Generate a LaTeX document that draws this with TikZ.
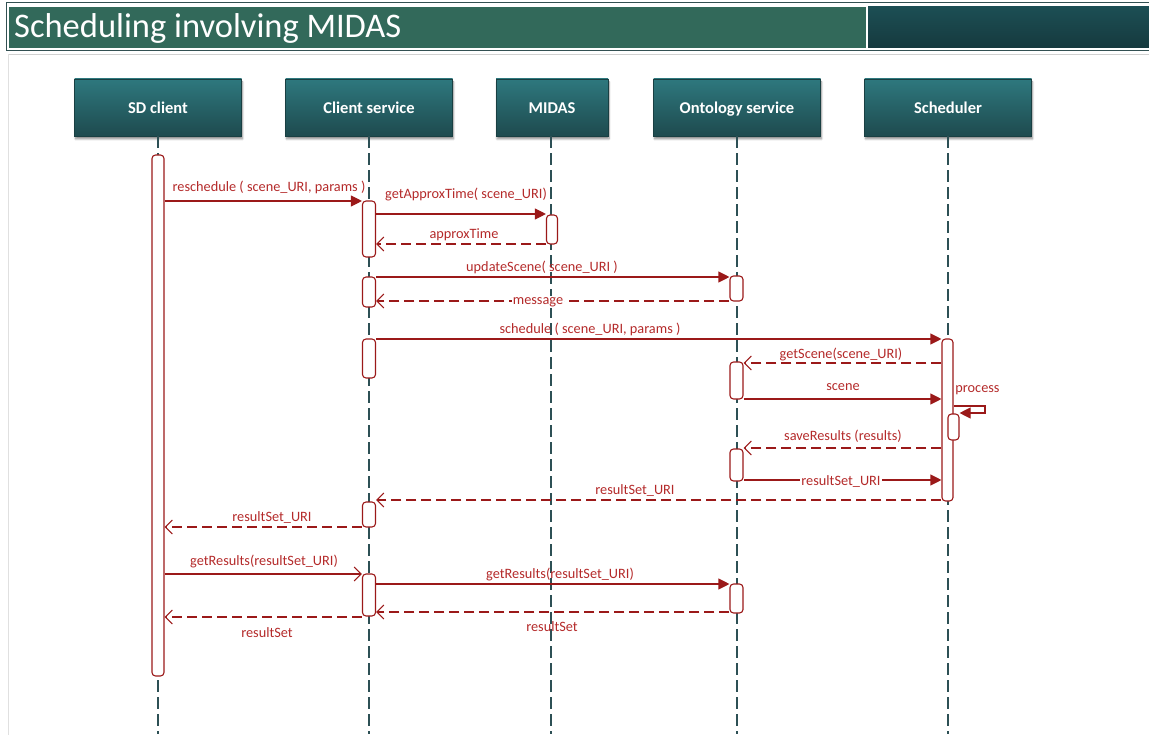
\documentclass[tikz,border=0pt]{standalone}
\usepackage{fontspec}
\setmainfont{Carlito}
\usetikzlibrary{arrows.meta,shadows.blur}

\definecolor{msgred}{RGB}{155,25,25}
\definecolor{lblred}{RGB}{180,42,42}
\definecolor{lifeline}{RGB}{45,80,85}
\definecolor{hdrtop}{RGB}{46,120,126}
\definecolor{hdrbot}{RGB}{30,74,78}
\definecolor{titlegreen}{RGB}{50,105,90}
\definecolor{titledarkA}{RGB}{28,78,84}
\definecolor{titledarkB}{RGB}{22,58,62}
\definecolor{frame}{RGB}{50,80,82}

\tikzset{
  hdr/.style={rectangle, inner sep=0pt, minimum height=57pt,
    text height=14pt, text depth=2pt,
    top color=hdrtop, bottom color=hdrbot, draw=hdrbot!85!black, line width=0.6pt,
    text=white, font=\bfseries\fontsize{16.5}{18}\selectfont,
    blur shadow={shadow xshift=1pt, shadow yshift=-3pt, shadow blur steps=6, shadow opacity=45}},
  life/.style={draw=lifeline, line width=1.6pt, dash pattern=on 12pt off 5pt},
  actbar/.style={rectangle, rounded corners=3.5pt, draw=msgred, fill=white,
    line width=1.1pt, inner sep=0pt},
  callmsg/.style={draw=msgred, line width=1.1pt, -{Triangle[length=11pt,width=11pt]}},
  opencall/.style={draw=msgred, line width=1.1pt, -{Straight Barb[length=7pt,width=14pt,line width=1.1pt]}},
  replymsg/.style={draw=msgred, line width=1.1pt, dash pattern=on 10pt off 5pt,
    -{Straight Barb[length=7pt,width=14pt,line width=1.1pt]}},
  lbl/.style={text=lblred, font=\fontsize{14.3}{16}\selectfont, inner sep=1pt},
  onlbl/.style={lbl, fill=white}
}

\begin{document}
\begin{tikzpicture}[x=1pt,y=-1pt]
\useasboundingbox (0,0) rectangle (1149,735);

% title banner
\draw[frame, line width=1pt] (6,3) rectangle (1152,51);
\fill[titlegreen] (9,7) rectangle (866,48);
\shade[top color=titledarkA, bottom color=titledarkB] (868,7) rectangle (1152,48);
\node[anchor=west, text=white, font=\fontsize{34.5}{38}\selectfont, inner sep=0pt] (title) at (14,28) {Scheduling involving MIDAS};
\draw[black!18, line width=0.8pt] (8,54) -- (1149,54);
\draw[black!12, line width=0.8pt] (8,54) -- (8,735);

% lifeline heads
\node[hdr, minimum width=167pt] (sd)  at (158,107.5) {SD client};
\node[hdr, minimum width=167pt] (cs)  at (369,107.5) {Client service};
\node[hdr, minimum width=112pt] (mid) at (552,107.5) {MIDAS};
\node[hdr, minimum width=167pt] (ont) at (737,107.5) {Ontology service};
\node[hdr, minimum width=167pt] (sch) at (948,107.5) {Scheduler};

% lifelines
\coordinate (sdend)  at (158,734);
\coordinate (csend)  at (369,734);
\coordinate (midend) at (551,734);
\coordinate (ontend) at (737,734);
\coordinate (schend) at (948,734);
\draw[life] (sd.south -| sdend) -- (sdend);
\draw[life] (cs.south -| csend) -- (csend);
\draw[life] (mid.south -| midend) -- (midend);
\draw[life] (ont.south -| ontend) -- (ontend);
\draw[life] (sch.south -| schend) -- (schend);

% activation bars
\node[actbar, minimum width=12pt, minimum height=521pt] (sdbar) at (158,415.5) {};
\node[actbar, minimum width=13pt, minimum height=56pt] (cs1) at (369,229) {};
\node[actbar, minimum width=13pt, minimum height=30pt] (cs2) at (369,292) {};
\node[actbar, minimum width=13pt, minimum height=39pt] (cs3) at (369,358.5) {};
\node[actbar, minimum width=13pt, minimum height=25pt] (cs4) at (369,514.5) {};
\node[actbar, minimum width=13pt, minimum height=42pt] (cs5) at (369,595) {};
\node[actbar, minimum width=11pt, minimum height=29pt] (mid1) at (552,229.5) {};
\node[actbar, minimum width=13pt, minimum height=25pt] (on1) at (736.5,288.5) {};
\node[actbar, minimum width=13pt, minimum height=37pt] (on2) at (736.5,380.5) {};
\node[actbar, minimum width=13pt, minimum height=32pt] (on3) at (736.5,465) {};
\node[actbar, minimum width=13pt, minimum height=29pt] (on4) at (736.5,598.5) {};
\node[actbar, minimum width=11pt, minimum height=162pt] (sbar) at (947.5,420) {};
\node[actbar, minimum width=11pt, minimum height=26pt] (nbar) at (953.5,427) {};

% messages
\draw[callmsg]  (sdbar.east |- 0,201) -- (cs1.west |- 0,201);
\draw[callmsg]  (cs1.east |- 0,214) -- (mid1.west |- 0,214);
\draw[replymsg] (mid1.west |- 0,244) -- (cs1.east |- 0,244);
\draw[callmsg]  (cs2.east |- 0,277) -- (on1.west |- 0,277);
\draw[replymsg] (on1.west |- 0,301) -- (cs2.east |- 0,301);
\draw[callmsg]  (cs3.east |- 0,339) -- (sbar.west |- 0,339);
\draw[replymsg] (sbar.west |- 0,363) -- (on2.east |- 0,363);
\draw[callmsg]  (on2.east |- 0,399) -- (sbar.west |- 0,399);
\coordinate (turnA) at (985,406);
\coordinate (turnB) at (985,413);
\draw[callmsg]  (sbar.east |- turnA) -- (turnA) -- (turnB) -- (nbar.east |- turnB);
\draw[replymsg] (sbar.west |- 0,448) -- (on3.east |- 0,448);
\draw[callmsg]  (on3.east |- 0,480) -- (sbar.west |- 0,480);
\draw[replymsg] (sbar.west |- 0,500) -- (cs4.east |- 0,500);
\draw[replymsg] (cs4.west |- 0,527) -- (sdbar.east |- 0,527);
\draw[opencall] (sdbar.east |- 0,574) -- (cs5.west |- 0,574);
\draw[callmsg]  (cs5.east |- 0,584) -- (on4.west |- 0,584);
\draw[replymsg] (on4.west |- 0,612) -- (cs5.east |- 0,612);
\draw[replymsg] (cs5.west |- 0,617) -- (sdbar.east |- 0,617);

% message labels
\node[lbl]   (l1)  at (269,187) {reschedule ( scene\_URI, params )};
\node[lbl]   (l2)  at (466,195) {getApproxTime( scene\_URI)};
\node[lbl]   (l3)  at (464,235) {approxTime};
\node[lbl]   (l4)  at (542,267) {updateScene( scene\_URI )};
\node[onlbl] (l5)  at (538,302) {message};
\node[lbl]   (l6)  at (590,329) {schedule ( scene\_URI, params )};
\node[lbl]   (l7)  at (841,354) {getScene(scene\_URI)};
\node[lbl]   (l8)  at (843,387) {scene};
\node[lbl]   (l9)  at (977.5,390) {process};
\node[lbl]   (l10) at (843,436) {saveResults (results)};
\node[onlbl] (l11) at (841,481) {resultSet\_URI};
\node[lbl]   (l12) at (635,490) {resultSet\_URI};
\node[lbl]   (l13) at (272,517) {resultSet\_URI};
\node[lbl]   (l14) at (264,561) {getResults(resultSet\_URI)};
\node[lbl]   (l15) at (560,574) {getResults(resultSet\_URI)};
\node[lbl]   (l16) at (552,627) {resultSet};
\node[lbl]   (l17) at (267,633) {resultSet};
\end{tikzpicture}
\end{document}
